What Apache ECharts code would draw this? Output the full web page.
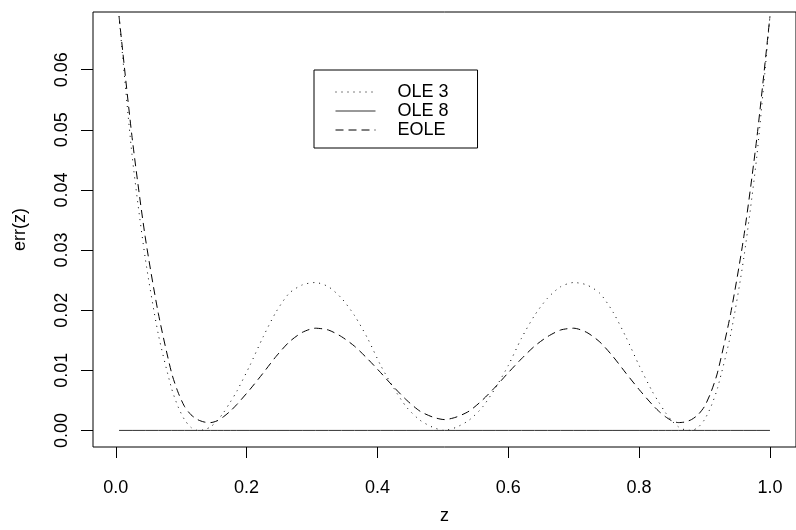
<!DOCTYPE html>
<html>
<head>
<meta charset="utf-8">
<script src="https://cdn.jsdelivr.net/npm/echarts@6/dist/echarts.min.js"></script>
<style>
  html, body { margin: 0; padding: 0; background: #fff; }
  #chart { width: 796px; height: 530px; }
</style>
</head>
<body>
<div id="chart"></div>
<script>
// Evaluation points along z
const zs = [0.005, 0.025, 0.045, 0.065, 0.085, 0.095, 0.105, 0.115, 0.125, 0.135, 0.145, 0.155, 0.165, 0.175,
  0.185, 0.205, 0.225, 0.245, 0.265, 0.285, 0.305, 0.325, 0.345, 0.365, 0.385, 0.405, 0.425,
  0.445, 0.465, 0.485, 0.5025,
  0.52, 0.54, 0.56, 0.58, 0.60, 0.62, 0.64, 0.66, 0.68, 0.70, 0.72, 0.74, 0.76, 0.78, 0.80,
  0.82, 0.83, 0.84, 0.85, 0.86, 0.87, 0.88, 0.89, 0.90, 0.91, 0.92, 0.94, 0.96, 0.98, 1.00];

// Error of the OLE expansion with 3 terms
const ole3 = [0.0689, 0.0457, 0.0287, 0.0160, 0.0071, 0.0040, 0.0018, 0.0005, 0.0000, 0.0001, 0.0006, 0.0016, 0.0030, 0.0047,
  0.0065, 0.0108, 0.0155, 0.0197, 0.0228, 0.0242, 0.0246, 0.0239, 0.0220, 0.0191, 0.0153, 0.0108, 0.0070,
  0.0038, 0.0017, 0.0005, 0.0000,
  0.0005, 0.0017, 0.0038, 0.0070, 0.0108, 0.0153, 0.0191, 0.0220, 0.0239, 0.0246, 0.0242, 0.0228, 0.0197, 0.0155, 0.0108,
  0.0065, 0.0047, 0.0030, 0.0016, 0.0006, 0.0001, 0.0000, 0.0005, 0.0018, 0.0040, 0.0071, 0.0160, 0.0287, 0.0457, 0.0689];

// Error of the OLE expansion with 8 terms
const ole8 = zs.map(() => 0.0);

// Error of the EOLE expansion
const eole = [0.0689, 0.0487, 0.0322, 0.0195, 0.0097, 0.0064, 0.0040, 0.0026, 0.0018, 0.0014, 0.0013, 0.0016, 0.0023, 0.0032,
  0.0043, 0.0068, 0.0095, 0.0123, 0.0147, 0.0163, 0.0170, 0.0167, 0.0156, 0.0140, 0.0119, 0.0096, 0.0072,
  0.0050, 0.0032, 0.0022, 0.0018,
  0.0022, 0.0032, 0.0050, 0.0072, 0.0096, 0.0119, 0.0140, 0.0156, 0.0167, 0.0170, 0.0163, 0.0147, 0.0123, 0.0095, 0.0068,
  0.0043, 0.0032, 0.0023, 0.0016, 0.0013, 0.0014, 0.0018, 0.0026, 0.0040, 0.0064, 0.0097, 0.0195, 0.0322, 0.0487, 0.0689];

const xTicks = [0, 0.2, 0.4, 0.6, 0.8, 1.0];
const yTicks = [0, 0.01, 0.02, 0.03, 0.04, 0.05, 0.06];

const FONT = "'Liberation Sans', Arial, Helvetica, sans-serif";
const pairs = (ys) => zs.map((z, i) => [z, ys[i]]);

const chart = echarts.init(document.getElementById('chart'), null, { renderer: 'canvas' });
chart.setOption({
  animation: false,
  backgroundColor: '#fff',
  grid: {
    left: 93, top: 12, width: 712, height: 435,
    show: true, borderColor: '#000', borderWidth: 1, backgroundColor: 'transparent'
  },
  xAxis: {
    type: 'value', min: -0.0348, max: 1.0398,
    axisLine: { show: false, onZero: false },
    splitLine: { show: false },
    axisTick: { show: true, customValues: xTicks, length: 11, lineStyle: { color: '#000', width: 1 } },
    axisLabel: {
      customValues: xTicks, formatter: (v) => v.toFixed(1),
      margin: 32, fontSize: 18, color: '#000', fontFamily: FONT
    },
    name: 'z', nameLocation: 'middle', nameGap: 60,
    nameTextStyle: { fontSize: 18, color: '#000', fontFamily: FONT }
  },
  yAxis: {
    type: 'value', min: -0.00276, max: 0.0696,
    axisLine: { show: false, onZero: false },
    splitLine: { show: false },
    axisTick: { show: true, customValues: yTicks, length: 12, lineStyle: { color: '#000', width: 1 } },
    axisLabel: {
      customValues: yTicks, formatter: (v) => v.toFixed(2), rotate: 90,
      margin: 22, fontSize: 18, color: '#000', fontFamily: FONT
    },
    name: 'err(z)', nameLocation: 'middle', nameRotate: 90, nameGap: 64,
    nameTextStyle: { fontSize: 18, color: '#000', fontFamily: FONT }
  },
  legend: {
    orient: 'vertical', left: 314, top: 70,
    borderColor: '#000', borderWidth: 1, borderRadius: 0,
    padding: [13, 29, 9, 21],
    itemWidth: 40, itemHeight: 17, itemGap: 1,
    itemStyle: { color: 'rgba(0,0,0,0)', borderColor: 'rgba(0,0,0,0)', borderWidth: 0, opacity: 0 },
    lineStyle: { width: 1 },
    textStyle: { fontSize: 18, color: '#000', fontFamily: FONT, padding: [0, 0, 0, 17], lineHeight: 18 },
    data: ['OLE 3', 'OLE 8', 'EOLE']
  },
  series: [
    {
      name: 'OLE 3', type: 'line', data: pairs(ole3), symbol: 'none', smooth: 0.25,
      color: '#000', lineStyle: { color: '#000', width: 1, type: [1, 5] }
    },
    {
      name: 'OLE 8', type: 'line', data: pairs(ole8), symbol: 'none',
      color: '#000', lineStyle: { color: '#333', width: 1 }
    },
    {
      name: 'EOLE', type: 'line', data: pairs(eole), symbol: 'none', smooth: 0.25,
      color: '#000', lineStyle: { color: '#000', width: 1, type: [8, 5] }
    }
  ]
});
</script>
</body>
</html>
